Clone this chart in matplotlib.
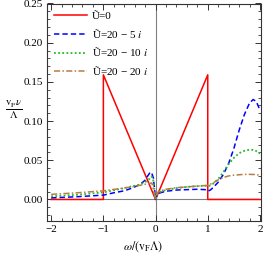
import matplotlib
matplotlib.use('Agg')
import matplotlib.pyplot as plt
from matplotlib.ticker import MultipleLocator, FormatStrFormatter

plt.rcParams['font.family'] = ['Liberation Serif', 'DejaVu Serif']
plt.rcParams['mathtext.fontset'] = 'stix'

# U = 0 (clean case)
omega_u0 = [-2.0, -1.0, -1.0, 0.0, 1.0, 1.0, 2.0]
nu_u0 = [0.0, 0.0, 0.159, 0.0, 0.159, 0.0, 0.0]

# U = 20 - 5i
omega_5 = [-2.0, -1.5, -1.0, -0.8, -0.6, -0.45, -0.3, -0.2, -0.15, -0.1, -0.07, -0.04, 0.0,
           0.03, 0.07, 0.12, 0.2, 0.4, 0.6, 0.8, 0.95, 1.0, 1.05, 1.1, 1.2, 1.3, 1.4,
           1.5, 1.6, 1.7, 1.8, 1.87, 1.93, 2.0]
nu_5 = [0.002, 0.0035, 0.0055, 0.0085, 0.011, 0.0145, 0.019, 0.0245, 0.030, 0.035, 0.033, 0.027, 0.0,
        0.0065, 0.008, 0.009, 0.0105, 0.012, 0.0125, 0.013, 0.0125, 0.0105, 0.012, 0.015, 0.022, 0.032,
        0.046, 0.065, 0.088, 0.108, 0.123, 0.1275, 0.125, 0.114]

# U = 20 - 10i
omega_10 = [-2.0, -1.5, -1.0, -0.7, -0.5, -0.3, -0.2, -0.12, -0.08, -0.05, 0.0,
            0.03, 0.07, 0.12, 0.2, 0.4, 0.6, 0.8, 0.95, 1.0, 1.05, 1.1, 1.2, 1.3, 1.4,
            1.5, 1.6, 1.7, 1.8, 1.9, 2.0]
nu_10 = [0.004, 0.006, 0.009, 0.013, 0.016, 0.019, 0.022, 0.026, 0.0295, 0.027, 0.0,
         0.0075, 0.009, 0.0105, 0.012, 0.0145, 0.016, 0.017, 0.0175, 0.0165, 0.018, 0.020, 0.026,
         0.035, 0.045, 0.053, 0.059, 0.062, 0.0635, 0.063, 0.0585]

# U = 20 - 20i
omega_20 = [-2.0, -1.5, -1.0, -0.5, -0.3, -0.15, -0.07, 0.0,
            0.03, 0.07, 0.12, 0.2, 0.4, 0.6, 0.8, 1.0, 1.1, 1.2, 1.3, 1.4, 1.5,
            1.6, 1.7, 1.8, 1.9, 2.0]
nu_20 = [0.0065, 0.0085, 0.011, 0.0155, 0.018, 0.020, 0.021, 0.0,
         0.0085, 0.0105, 0.0115, 0.013, 0.015, 0.016, 0.017, 0.018, 0.021, 0.025, 0.028, 0.030, 0.031,
         0.0315, 0.032, 0.032, 0.0318, 0.031]

labels = ['Ũ=0', 'Ũ=20 − 5 $i$', 'Ũ=20 − 10 $i$', 'Ũ=20 − 20 $i$']

fig = plt.figure(figsize=(2.66, 2.59), dpi=100)
ax = fig.add_axes([47 / 266, 38 / 259, 214 / 266, 217.5 / 259])

# gray axes through origin
ax.axhline(0, color='#808080', lw=0.8, zorder=1)
ax.axvline(0, color='#808080', lw=0.8, zorder=1)

ax.plot(omega_u0, nu_u0, color='#ff0000', lw=1.1, label=labels[0], zorder=3)
ax.plot(omega_5, nu_5, color='#0000ff', lw=1.1, dashes=(3.5, 2), label=labels[1], zorder=4)
ax.plot(omega_10, nu_10, color='#22bb22', lw=1.3, dashes=(1, 1.3), label=labels[2], zorder=4)
ax.plot(omega_20, nu_20, color='#b87c44', lw=1.1, dashes=(4, 1.5, 1, 1.5), label=labels[3], zorder=4)

ax.set_xlim(-2.08, 2.02)
ax.set_ylim(-0.0275, 0.25)

ax.xaxis.set_major_locator(MultipleLocator(1))
ax.xaxis.set_minor_locator(MultipleLocator(0.2))
ax.yaxis.set_major_locator(MultipleLocator(0.05))
ax.yaxis.set_minor_locator(MultipleLocator(0.01))
ax.yaxis.set_major_formatter(FormatStrFormatter('%.2f'))
ax.tick_params(which='both', direction='in', top=True, right=True, labelsize=8, color='#333333')
ax.tick_params(which='major', length=4, width=0.7, pad=3)
ax.tick_params(which='minor', length=2, width=0.6)
for sp in ax.spines.values():
    sp.set_linewidth(0.8)
    sp.set_color('#333333')

ax.legend(loc='upper left', bbox_to_anchor=(0.035, 0.965), frameon=False, fontsize=8,
          handlelength=2.9, handletextpad=0.5, labelspacing=0.52, borderaxespad=0, borderpad=0)

fig.text(0.05, 0.575, r'$\frac{\mathrm{v}_\mathrm{F}\nu}{\Lambda}$', fontsize=11, ha='center', va='center')
fig.text(0.538, 0.046, r'$\omega/(\mathrm{v}_\mathrm{F}\Lambda)$', fontsize=8.5, ha='center', va='center')

fig.savefig('out.png', dpi=100)
